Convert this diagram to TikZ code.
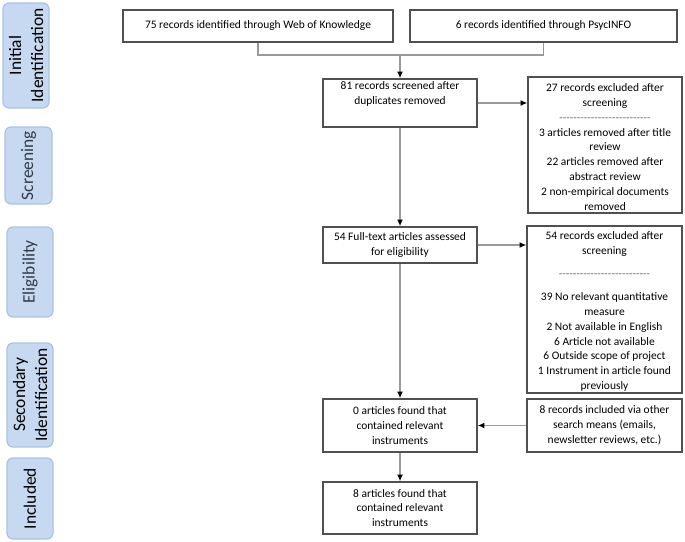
\documentclass[tikz,border=0pt]{standalone}
\usepackage{fontspec}
\setmainfont{Carlito}
\usetikzlibrary{arrows.meta,calc}
\definecolor{boxline}{HTML}{505050}
\definecolor{connc}{HTML}{9A9A9A}
\definecolor{labfill}{HTML}{C6D9F0}
\definecolor{labline}{HTML}{A9C3E4}
\definecolor{labtext}{HTML}{000000}
\definecolor{labtextb}{HTML}{333B46}
\definecolor{dashc}{HTML}{707070}
\newcommand\hy{-\kern0pt}
\newcommand\dashrow{\textcolor{dashc}{\hy\hy\hy\hy\hy\hy\hy\hy\hy\hy\hy\hy\hy\hy\hy\hy\hy\hy\hy\hy\hy\hy\hy\hy\hy\hy}}
\begin{document}
\begin{tikzpicture}[x=0.75pt,y=-0.75pt,
  box/.style={draw=boxline,line width=1.1pt,fill=white,align=center,inner sep=0pt,
    font=\fontsize{8.6}{11.1}\selectfont},
  lab/.style={draw=labline,line width=0.9pt,fill=labfill,rounded corners=4.5pt,rotate=90,
    align=center,inner sep=0pt,text=labtext,font=\fontsize{13.1}{16.5}\selectfont},
  conn/.style={draw=connc,line width=1pt},
  arr/.style={conn,-{Latex[length=5pt,width=4.5pt,color=black]}}]
\useasboundingbox (0,0) rectangle (685,542);

% side labels
\node[lab,minimum width=78.75pt,minimum height=34.5pt] (l1) at (26,55.5) {Initial\\Identification};
\node[lab,minimum width=57.75pt,minimum height=35.25pt,text=labtextb] (l2) at (28.5,165.5) {Screening};
\node[lab,minimum width=67.5pt,minimum height=34.5pt,text=labtextb] (l3) at (30,272) {Eligibility};
\node[lab,minimum width=78pt,minimum height=34.5pt] (l4) at (30,395) {Secondary\\Identification};
\node[lab,minimum width=60.75pt,minimum height=34.5pt] (l5) at (30,498.5) {Included};

% boxes
\node[box,minimum width=202.5pt,minimum height=24pt] (wok) at (258,26)
  {75 records identified through Web of Knowledge};
\node[box,minimum width=200.25pt,minimum height=24pt] (psy) at (543.5,26)
  {6 records identified through PsycINFO};
\node[box,minimum width=115.5pt,minimum height=36pt] (scr) at (400,103)
  {81 records screened after\\duplicates removed\\[4pt]\mbox{}};
\node[box,minimum width=115.5pt,minimum height=102pt] (ex1) at (605,145)
  {\rule{0pt}{9pt}27 records excluded after\\screening\\\dashrow\\3 articles removed after title\\review\\22 articles removed after\\abstract review\\2 non-empirical documents\\removed};
\node[box,minimum width=115.5pt,minimum height=27pt] (elig) at (400,245)
  {54 Full-text articles assessed\\for eligibility};
\node[box,minimum width=116.25pt,minimum height=125.25pt] (ex2) at (604.5,309.5)
  {\rule{0pt}{9pt}54 records excluded after\\screening\\[6.2pt]\dashrow\\[6.2pt]39 No relevant quantitative\\measure\\2 Not available in English\\6 Article not available\\6 Outside scope of project\\1 Instrument in article found\\previously};
\node[box,minimum width=115.5pt,minimum height=39.75pt] (sec) at (400,425.5)
  {0 articles found that\\contained relevant\\instruments};
\node[box,minimum width=116.25pt,minimum height=39.75pt] (oth) at (604.5,425.5)
  {8 records included via other\\search means (emails,\\newsletter reviews, etc.)};
\node[box,minimum width=115.5pt,minimum height=39pt] (inc) at (400,508)
  {8 articles found that\\contained relevant\\instruments};

% connectors
\coordinate (j) at (400,55);
\draw[conn] (wok.south) |- (j) -| (psy.south);
\draw[arr] (j) -- (scr.north);
\draw[arr] (scr.east) -- (scr.east -| ex1.west);
\draw[arr] (scr.south) -- (elig.north);
\draw[arr] (elig.east) -- (elig.east -| ex2.west);
\draw[arr] (elig.south) -- (sec.north);
\draw[arr] (oth.west) -- (sec.east);
\draw[arr] (sec.south) -- (inc.north);
\end{tikzpicture}
\end{document}
